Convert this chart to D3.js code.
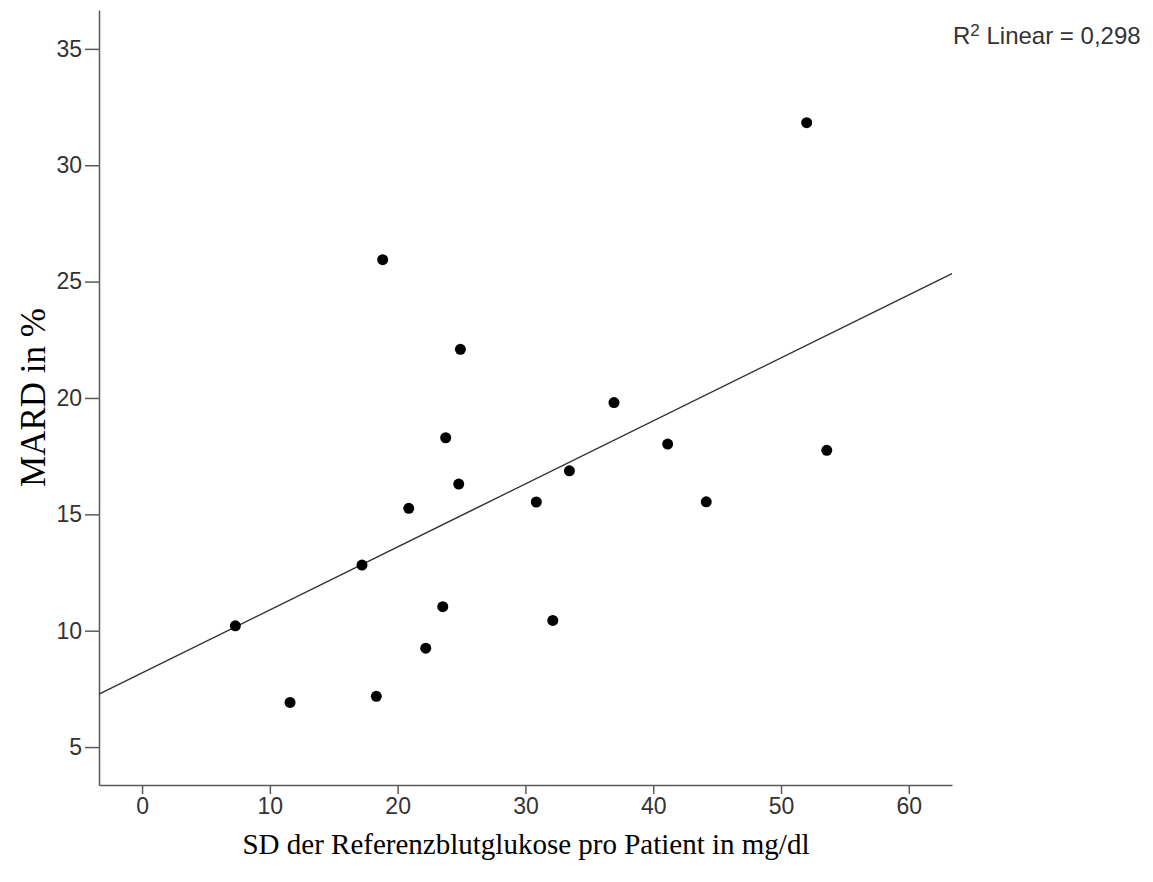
<!DOCTYPE html>
<html>
<head>
<meta charset="utf-8">
<script src="https://cdn.jsdelivr.net/npm/d3@7"></script>
<style>
  html, body { margin: 0; padding: 0; background: #fff; }
  svg { display: block; }
</style>
</head>
<body>
<svg id="chart" width="1153" height="882"></svg>
<script>
// ---- data ----
const sdReference = [7.30, 11.58, 17.21, 18.33, 18.83, 20.87, 22.20, 23.53, 23.76, 24.78,
                     24.91, 30.85, 32.14, 33.44, 36.93, 41.13, 44.15, 52.01, 53.58];
const mardPercent = [10.21, 6.92, 12.82, 7.18, 25.94, 15.26, 9.25, 11.03, 18.29, 16.30,
                     22.09, 15.53, 10.44, 16.87, 19.80, 18.02, 15.54, 31.83, 17.75];
const xTicks = [0, 10, 20, 30, 40, 50, 60];
const yTicks = [5, 10, 15, 20, 25, 30, 35];
const xDomain = [-3.37, 63.38];
const yDomain = [3.37, 36.67];
const xTitle = "SD der Referenzblutglukose pro Patient in mg/dl";
const yTitle = "MARD in %";
const fitLabel = { pre: "R", sup: "2", post: " Linear = 0,298" };

// ---- layout ----
const svg = d3.select("#chart");
const margin = { left: 99, right: 1153 - 952, top: 10, bottom: 882 - 785 };
const W = 1153 - margin.left - margin.right;
const H = 882 - margin.top - margin.bottom;

const x = d3.scaleLinear().domain(xDomain).range([0, W]);
const y = d3.scaleLinear().domain(yDomain).range([H, 0]);

const g = svg.append("g").attr("transform", `translate(${margin.left},${margin.top})`);

const axisColor = "#5a5a5a";
const tickFont = "'Liberation Sans', Arial, sans-serif";
const serifFont = "'Liberation Serif', 'Times New Roman', serif";

// x axis
const xAxis = g.append("g")
  .attr("transform", `translate(0,${H})`)
  .call(d3.axisBottom(x).tickValues(xTicks).tickFormat(d3.format("d")).tickSize(9).tickSizeOuter(0).tickPadding(4));
// y axis
const yAxis = g.append("g")
  .call(d3.axisLeft(y).tickValues(yTicks).tickFormat(d3.format("d")).tickSize(14).tickSizeOuter(0).tickPadding(3));

[xAxis, yAxis].forEach(a => {
  a.select(".domain").attr("stroke", axisColor).attr("stroke-width", 1.5);
  a.selectAll(".tick line").attr("stroke", axisColor).attr("stroke-width", 1.5);
  a.selectAll(".tick text").attr("fill", "#333").style("font-family", tickFont).style("font-size", "23px");
});

// regression line from the data (least squares)
const n = sdReference.length;
const mx = d3.mean(sdReference), my = d3.mean(mardPercent);
let sxy = 0, sxx = 0;
for (let i = 0; i < n; i++) {
  sxy += (sdReference[i] - mx) * (mardPercent[i] - my);
  sxx += (sdReference[i] - mx) ** 2;
}
const slope = sxy / sxx, intercept = my - slope * mx;
g.append("line")
  .attr("x1", x(xDomain[0])).attr("y1", y(intercept + slope * xDomain[0]))
  .attr("x2", x(xDomain[1])).attr("y2", y(intercept + slope * xDomain[1]))
  .attr("stroke", "#333").attr("stroke-width", 1.5);

// points
g.selectAll("circle.pt")
  .data(sdReference.map((d, i) => [d, mardPercent[i]]))
  .join("circle")
  .attr("class", "pt")
  .attr("cx", d => x(d[0]))
  .attr("cy", d => y(d[1]))
  .attr("r", 5.5)
  .attr("fill", "#000");

// axis titles
svg.append("text")
  .attr("x", 526).attr("y", 854)
  .attr("text-anchor", "middle")
  .style("font-family", serifFont)
  .style("font-size", "29px")
  .attr("fill", "#000")
  .text(xTitle);

svg.append("text")
  .attr("transform", `translate(45,${margin.top + H / 2}) rotate(-90)`)
  .attr("text-anchor", "middle")
  .style("font-family", serifFont)
  .style("font-size", "35px")
  .attr("fill", "#000")
  .text(yTitle);

// R² label
const lbl = svg.append("text")
  .attr("x", 953).attr("y", 44)
  .style("font-family", tickFont)
  .style("font-size", "24px")
  .attr("fill", "#333");
lbl.append("tspan").text(fitLabel.pre);
lbl.append("tspan").attr("dy", -8).style("font-size", "17px").text(fitLabel.sup);
lbl.append("tspan").attr("dy", 8).text(fitLabel.post);
</script>
</body>
</html>
